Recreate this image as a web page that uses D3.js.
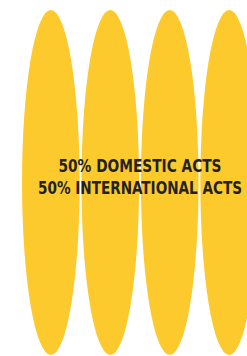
<!DOCTYPE html>
<html>
<head>
<meta charset="utf-8">
<script src="https://cdn.jsdelivr.net/npm/d3@7"></script>
<style>
  body { margin: 0; background: #fff; }
  svg { display: block; }
</style>
</head>
<body>
<div id="chart-container"></div>
<script>
// Data: four equal units, half domestic and half international
const units = ["Domestic 1", "Domestic 2", "International 1", "International 2"];
const shares = [50, 50];
const labels = ["DOMESTIC ACTS", "INTERNATIONAL ACTS"];

const width = 247;
const height = 356;

const svg = d3.select("#chart-container")
  .append("svg")
    .attr("width", width)
    .attr("height", height);

// x band for the ellipses (4th one runs off the right edge)
const x = d3.scaleBand()
  .domain(units)
  .range([22, 258])
  .paddingInner(0.03)
  .paddingOuter(0);

const y = d3.scaleLinear()
  .domain([0, 1])
  .range([10, 355]);

svg.selectAll("ellipse")
  .data(units)
  .join("ellipse")
  .attr("cx", d => x(d) + x.bandwidth() / 2)
  .attr("cy", (y(0) + y(1)) / 2)
  .attr("rx", x.bandwidth() / 2)
  .attr("ry", (y(1) - y(0)) / 2)
  .attr("fill", "#fdca2e");

// centre label
const cx = (x(units[1]) + x.bandwidth() + x(units[2])) / 2;
const lineW = [163, 204];

svg.selectAll("text.label")
  .data(labels)
  .join("text")
  .attr("class", "label")
  .attr("x", cx)
  .attr("y", (d, i) => 171.5 + i * 22.5)
  .attr("text-anchor", "middle")
  .attr("textLength", (d, i) => lineW[i])
  .attr("lengthAdjust", "spacingAndGlyphs")
  .style("font-family", "'DejaVu Sans Condensed', 'DejaVu Sans', sans-serif")
  .style("font-weight", "bold")
  .style("font-size", "18px")
  .attr("fill", "#222")
  .text((d, i) => `${shares[i]}% ${d}`);
</script>
</body>
</html>
